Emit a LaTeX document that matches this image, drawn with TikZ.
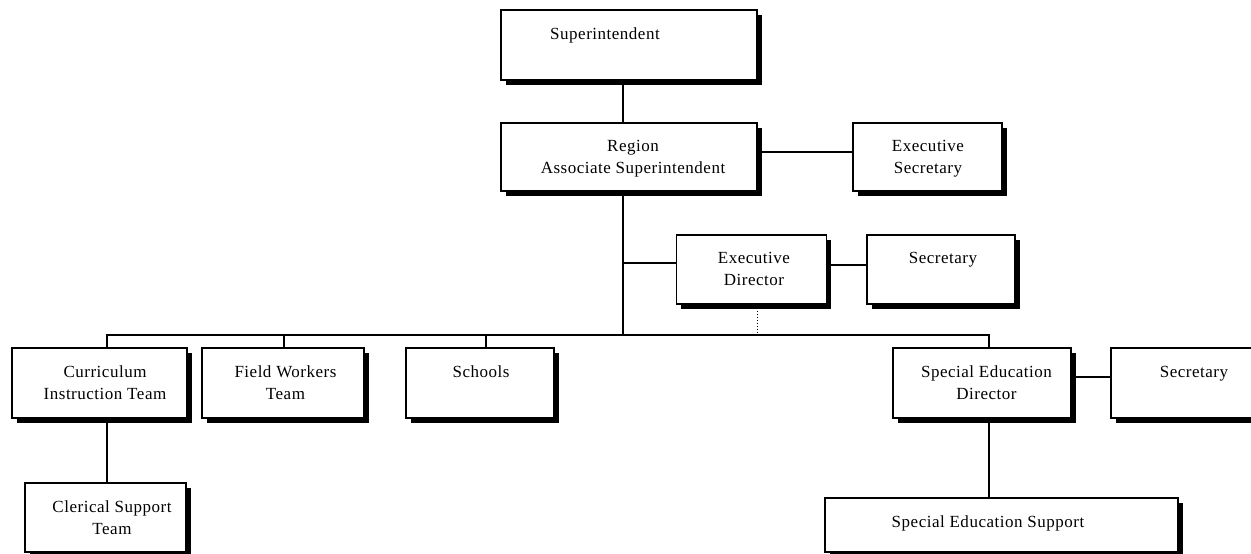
\documentclass[tikz,border=0pt]{standalone}
\usepackage{fontspec}
\newfontfamily\boxfont{Liberation Serif}[LetterSpace=3]
\usetikzlibrary{shadows}
\begin{document}
\begin{tikzpicture}[x=1pt, y=-1pt,
  box/.style={draw=black, line width=1.1pt, fill=white, rectangle, inner sep=0pt,
    drop shadow={fill=black, opacity=1, shadow xshift=4.5pt, shadow yshift=-5pt}},
  txt/.style={anchor=north, inner sep=0pt, align=center,
    font=\boxfont\fontsize{17}{22}\selectfont},
  link/.style={draw=black, line width=1.1pt},
  dotlink/.style={draw=black, line width=1pt, dotted}]
\useasboundingbox (0,0) rectangle (1251,554);
\clip (0,0) rectangle (1251,554);

% reference points of the connector routes
\coordinate (spine) at (623,0);
\coordinate (bus) at (0,335);
\coordinate (rsec) at (0,152);
\coordinate (edlink) at (0,263);
\coordinate (edsec) at (0,265);
\coordinate (sedsec) at (0,377);
\coordinate (dotx) at (757,0);
\coordinate (xcit) at (107,0);
\coordinate (xfwt) at (284,0);
\coordinate (xsch) at (486,0);
\coordinate (xsed) at (989,0);

% boxes
\node (sup)  [box, minimum width=256, minimum height=70] at (629,45) {};
\node (reg)  [box, minimum width=256, minimum height=68] at (629,157) {};
\node (esec) [box, minimum width=149, minimum height=68] at (927.5,157) {};
\node (ed)   [box, minimum width=150, minimum height=69] at (751.5,269.5) {};
\node (sec1) [box, minimum width=148, minimum height=69] at (941,269.5) {};
\node (cit)  [box, minimum width=175, minimum height=70] at (99.5,383) {};
\node (fwt)  [box, minimum width=162, minimum height=70] at (283,383) {};
\node (sch)  [box, minimum width=148, minimum height=70] at (480,383) {};
\node (sed)  [box, minimum width=178, minimum height=70] at (982,383) {};
\node (sec2) [box, minimum width=164, minimum height=70] at (1193,383) {};
\node (cst)  [box, minimum width=161, minimum height=69] at (105.5,517.5) {};
\node (ses)  [box, minimum width=353, minimum height=54] at (1001.5,525) {};

% connectors
\path[link] (sup.south -| spine) -- (reg.north -| spine);
\path[link] (reg.east |- rsec) -- (esec.west |- rsec);
\path[link] (reg.south -| spine) -- (spine |- bus);
\path[link] (spine |- edlink) -- (ed.west |- edlink);
\path[link] (ed.east |- edsec) -- (sec1.west |- edsec);
\path[dotlink] ([yshift=-6pt]ed.south -| dotx) -- (dotx |- bus);
\path[link] (cit.north -| xcit) -- (xcit |- bus) -- (xsed |- bus) -- (sed.north -| xsed);
\path[link] (fwt.north -| xfwt) -- (xfwt |- bus);
\path[link] (sch.north -| xsch) -- (xsch |- bus);
\path[link] (sed.east |- sedsec) -- (sec2.west |- sedsec);
\path[link] (cit.south -| xcit) -- (cst.north -| xcit);
\path[link] (sed.south -| xsed) -- (ses.north -| xsed);

% box texts
\node (tsup)  [txt] at (605,27.5)   {Superintendent};
\node (treg)  [txt] at (633,140.5)  {Region\\Associate Superintendent};
\node (tesec) [txt] at (928,140.5)  {Executive\\Secretary};
\node (ted)   [txt] at (754,252.5)  {Executive\\Director};
\node (tsec1) [txt] at (943,252.5)  {Secretary};
\node (tcit)  [txt] at (105,366)    {Curriculum\\Instruction Team};
\node (tfwt)  [txt] at (285.5,366)  {Field Workers\\Team};
\node (tsch)  [txt] at (481,366)    {Schools};
\node (tsed)  [txt] at (986.5,366)  {Special Education\\Director};
\node (tsec2) [txt] at (1194,366)   {Secretary};
\node (tcst)  [txt] at (112,500.5)  {Clerical Support\\Team};
\node (tses)  [txt] at (988,515.5)  {Special Education Support};
\end{tikzpicture}
\end{document}
